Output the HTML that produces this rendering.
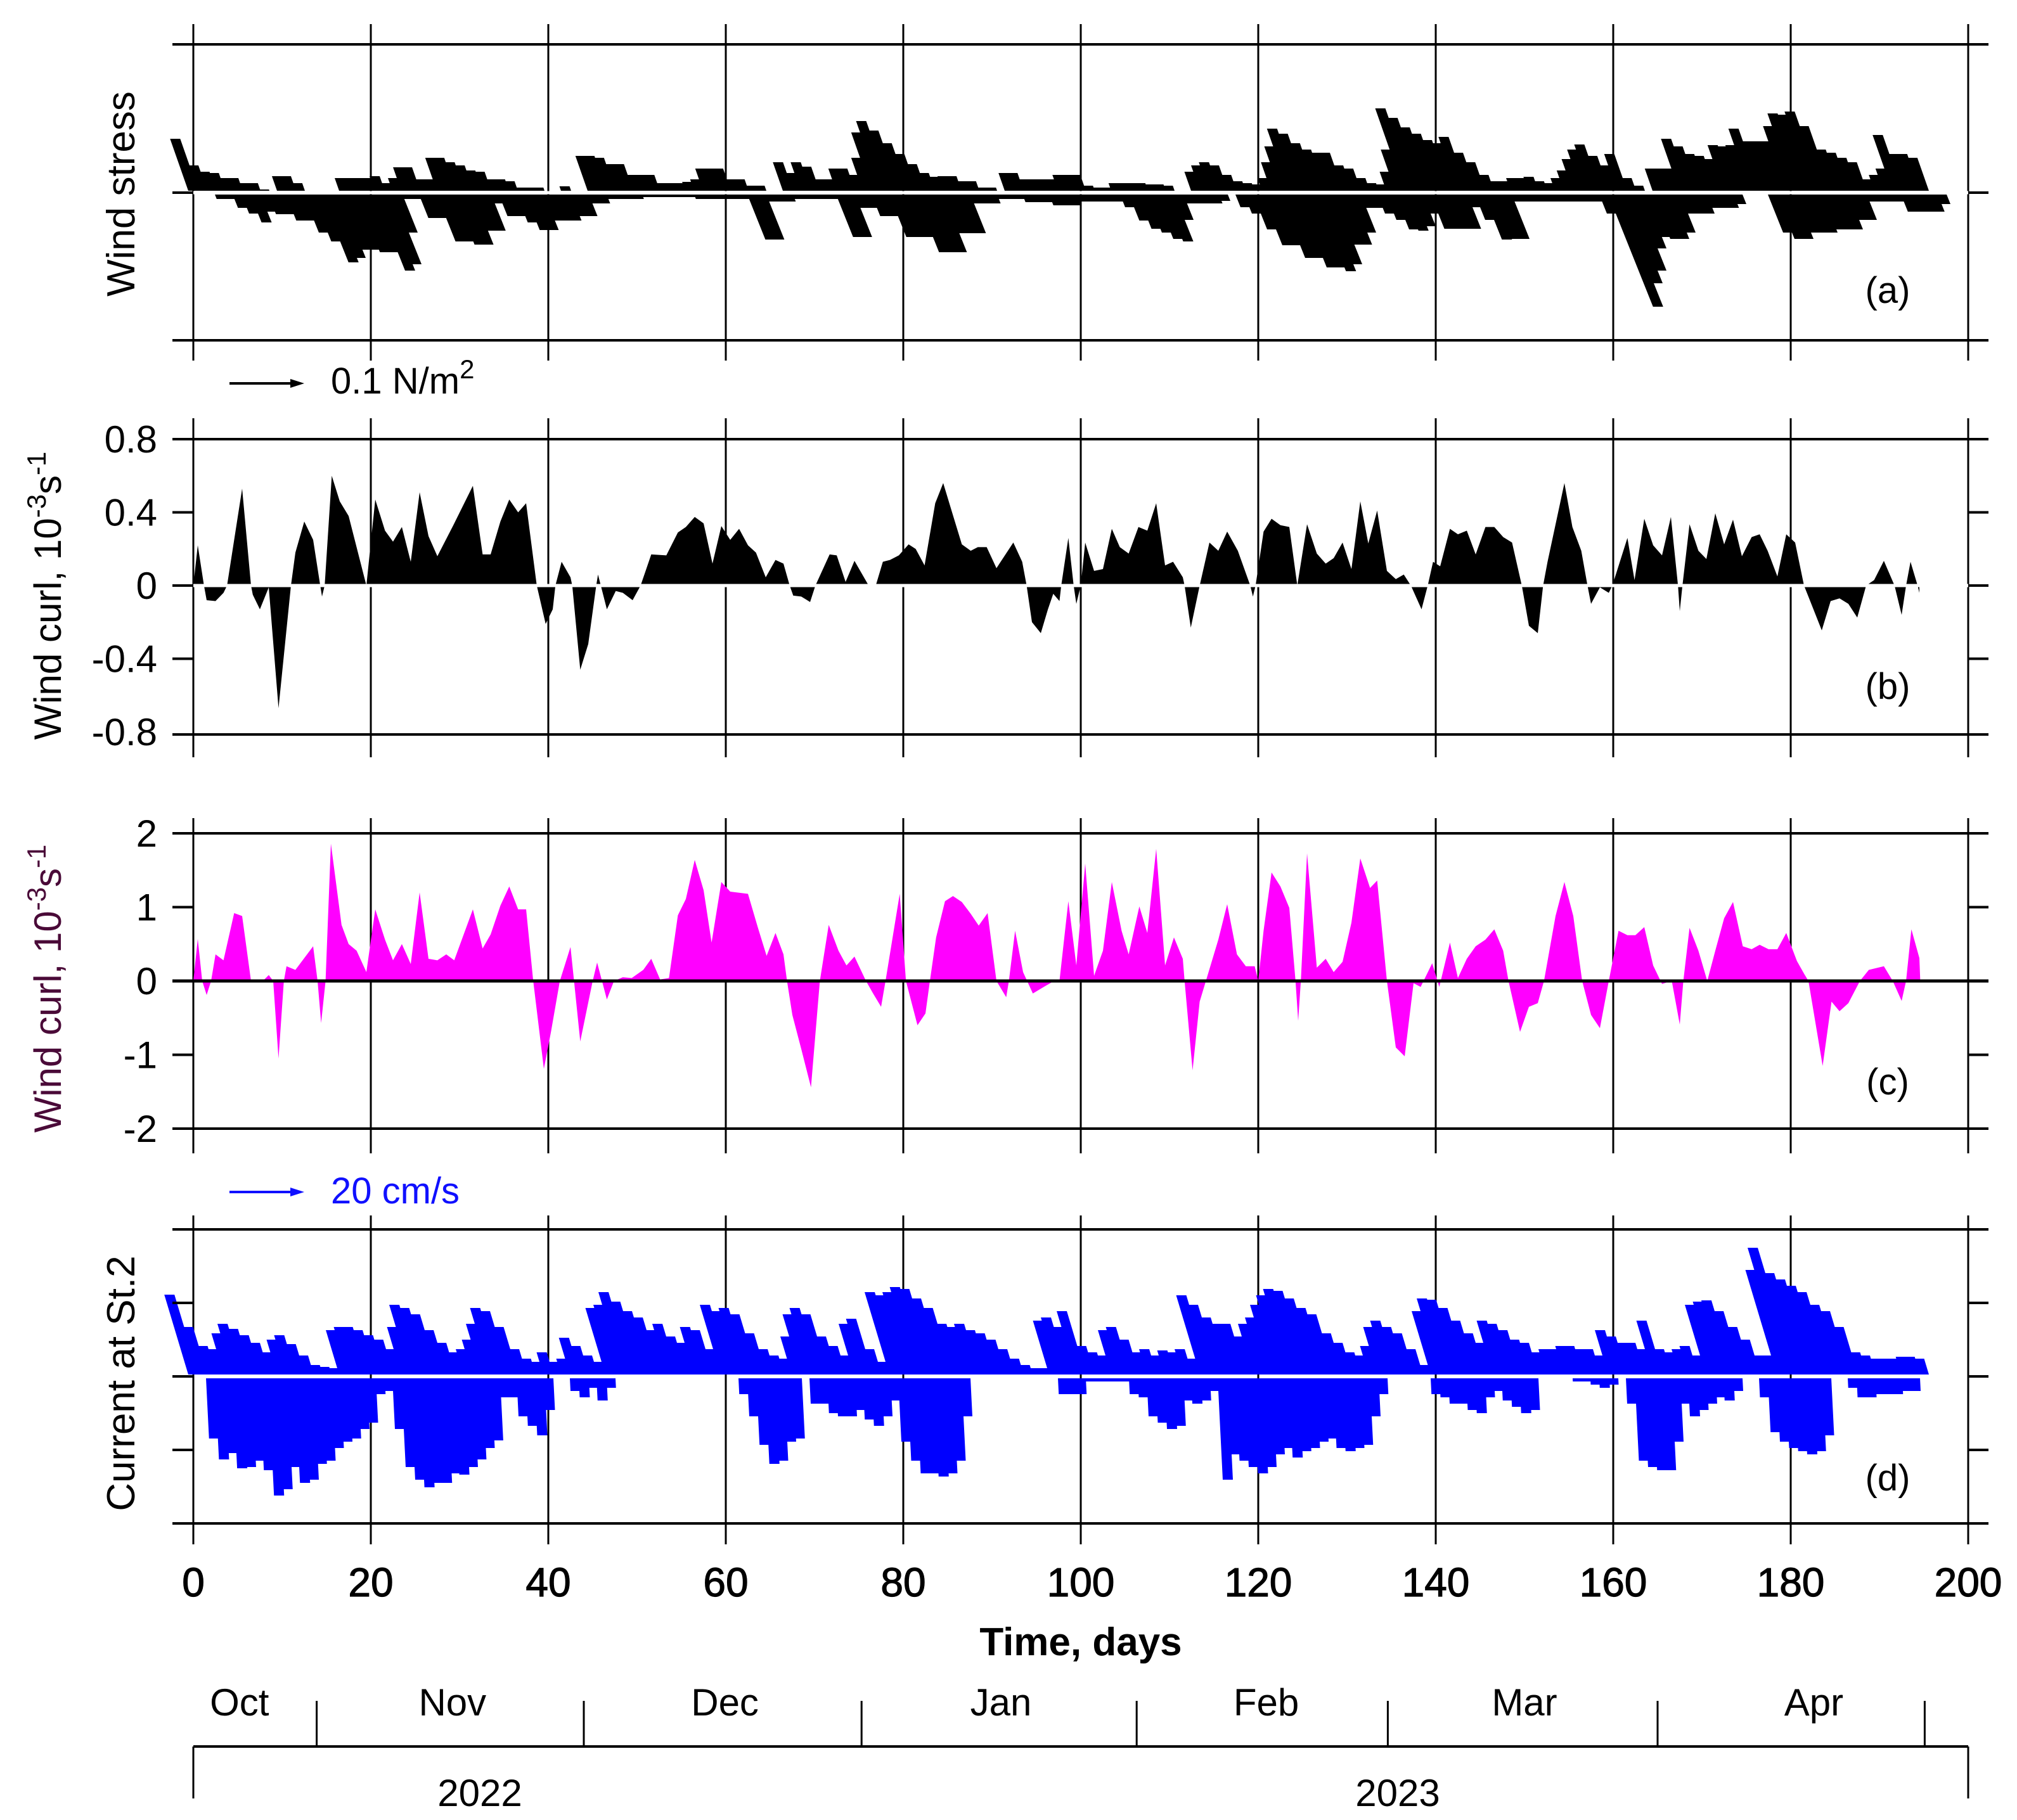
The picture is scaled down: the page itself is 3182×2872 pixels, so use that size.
<!DOCTYPE html>
<html><head><meta charset="utf-8"><style>
html,body{margin:0;padding:0;background:#fff;}
svg{display:block;font-family:"Liberation Sans",Arial,sans-serif;}
</style></head><body>
<svg id="chart" xmlns="http://www.w3.org/2000/svg" width="3182" height="2872" viewBox="0 0 3182 2872">
<rect width="3182" height="2872" fill="#fff"/>
<g id="axes" stroke="#000" fill="none"></g>
<g id="marks"></g>
<g id="overlay" stroke="#000" fill="none"></g>

<text transform="translate(212,306) rotate(-90)" text-anchor="middle" font-size="62">Wind stress</text>
<text transform="translate(96,940) rotate(-90)" text-anchor="middle" font-size="60">Wind curl, 10<tspan dy="-24" font-size="42">-3</tspan><tspan dy="24">s</tspan><tspan dy="-24" font-size="42">-1</tspan></text>
<text transform="translate(96,1560) rotate(-90)" text-anchor="middle" font-size="60" fill="#4a0a38">Wind curl, 10<tspan dy="-24" font-size="42">-3</tspan><tspan dy="24">s</tspan><tspan dy="-24" font-size="42">-1</tspan></text>
<text transform="translate(212,2183) rotate(-90)" text-anchor="middle" font-size="62">Current at St.2</text>

<text x="2978" y="478" text-anchor="middle" font-size="58">(a)</text>
<text x="2978" y="1103" text-anchor="middle" font-size="58">(b)</text>
<text x="2978" y="1727" text-anchor="middle" font-size="58">(c)</text>
<text x="2978" y="2352" text-anchor="middle" font-size="58">(d)</text>

<g>
<line x1="362" y1="605" x2="470" y2="605" stroke="#000" stroke-width="4"/>
<polygon points="480,605 458,598 458,612" fill="#000"/>
<text x="522" y="621" font-size="58">0.1 N/m<tspan dy="-24" font-size="42">2</tspan></text>
</g>
<g>
<line x1="362" y1="1881" x2="470" y2="1881" stroke="#1010ff" stroke-width="4"/>
<polygon points="480,1881 458,1874 458,1888" fill="#1010ff"/>
<text x="522" y="1899" font-size="58" fill="#1010ff">20 cm/s</text>
</g>

<g id="xticks"></g>
<text x="1705" y="2612" text-anchor="middle" font-size="62" font-weight="bold">Time, days</text>

<g id="months"></g>
<text x="757" y="2850" text-anchor="middle" font-size="60">2022</text>
<text x="2205" y="2850" text-anchor="middle" font-size="60">2023</text>
</svg>
<script>
const xTicks = [0,20,40,60,80,100,120,140,160,180,200];
const bTicks = ["0.8","0.4","0","-0.4","-0.8"];
const bTickVals = [0.8,0.4,0,-0.4,-0.8];
const cTicks = ["2","1","0","-1","-2"];
const cTickVals = [2,1,0,-1,-2];
const monthNames = ["Oct","Nov","Dec","Jan","Feb","Mar","Apr"];
const monthCenters = [5.2,29.2,59.9,91,120.9,150,182.6];
const monthBounds = [13.9,44,75.3,106.3,134.6,165,195.1];

const aUp = [82,40,30,28,20,20,12,12,2,0,23,23,12,0,0,0,0,20,20,20,20,23,12,20,37,37,18,18,52,52,45,40,32,30,18,18,15,5,5,5,0,0,7,0,0,55,55,52,42,42,25,25,25,12,12,12,14,18,35,35,35,18,18,8,8,0,0,45,28,45,38,18,18,35,35,25,52,92,110,95,75,58,42,28,22,23,23,15,15,5,5,0,28,28,18,18,18,18,25,25,
25,8,5,5,12,12,12,12,10,10,8,0,0,30,40,45,40,25,15,12,10,20,45,70,98,90,75,65,60,60,40,35,20,12,10,30,65,130,115,100,90,80,75,85,60,45,25,15,15,20,20,22,15,12,20,32,50,65,73,55,40,58,20,8,0,35,35,35,82,70,58,55,50,72,70,72,98,78,78,78,102,122,120,125,102,65,60,52,45,18,25,35,88,58,58,52,0,0,0,0];
const aDown = [0,0,0,7,7,21,30,44,27,31,31,41,41,60,74,107,100,87,87,91,91,120,110,60,7,7,37,37,74,74,79,79,57,57,14,34,34,44,56,56,41,41,41,34,34,14,14,7,7,7,7,4,4,4,4,4,4,7,7,7,7,7,7,71,71,11,11,11,7,7,7,7,7,67,67,21,21,34,34,67,67,67,91,91,91,61,61,61,14,14,14,7,7,7,12,12,12,17,17,17,
11,11,11,11,11,20,41,54,60,70,74,40,14,14,14,14,10,0,20,30,55,80,80,100,100,115,115,121,110,79,79,60,21,21,30,40,55,57,50,30,54,54,54,54,20,40,71,70,70,11,11,11,11,11,11,11,11,11,11,30,177,140,120,85,67,70,70,60,30,30,30,21,21,21,15,0,0,0,60,70,70,60,60,60,55,55,55,40,40,11,11,11,11,27,27,27,27,15,0,0];

const bDays = [0,0.5,1.2,1.5,2.5,3.4,3.8,5.5,6.5,6.7,7.5,8.5,9.6,11,11.5,12.5,13.5,14.3,14.5,14.8,15.6,16.5,17.5,19.5,20.5,21.6,22.5,23.5,24.5,25.5,26.5,27.5,29.3,31.5,32.6,33.5,34.6,35.6,36.6,37.5,38.7,39.7,40.5,40.8,41.5,42.5,42.7,43.6,44.5,45.4,45.6,46.6,47.6,48.4,49.5,50.4,51.6,53.3,54.6,55.5,56.5,57.5,58.5,59.5,60.5,61.5,62.5,63.4,64.5,65.6,66.5,67.2,67.6,68.5,69.5,70.1,71.7,72.5,73.5,74.5,76.1,76.9,77.7,78.5,79.5,80.6,81.4,82.4,83.6,84.5,85.5,86.6,87.6,88.4,89.4,90.5,92.4,93.4,93.9,94.5,95.5,96.3,96.9,97.6,97.8,98.6,99.2,99.5,100,100.5,101.5,102.5,103.5,104.4,105.4,106.5,107.5,108.5,109.5,110.4,111.5,111.7,112.4,113.4,114.5,115.5,116.5,117.7,119.1,119.4,119.7,120.6,121.5,122.5,123.5,124.4,125.5,126.6,127.6,128.5,129.5,130.5,131.5,132.4,133.4,134.5,135.5,136.4,137.2,138.4,139.1,139.7,140.5,141.6,142.5,143.5,144.5,145.6,146.6,147.6,148.6,149.7,150.5,151.5,152.1,152.6,154.5,155.4,156.4,157.1,157.5,158.5,159.5,159.9,161.6,162.4,163.5,164.5,165.5,166.5,167.3,167.5,167.8,168.6,169.6,170.5,171.5,172.5,173.5,174.5,175.6,176.5,177.4,178.5,179.5,180.5,181.5,182.4,183.5,184.5,185.5,186.5,187.5,188.5,189.4,190.5,191.7,192.5,193,193.5,194.3,194.5];
const bVals = [0,0.22,0,-0.08,-0.085,-0.04,0,0.53,0,-0.05,-0.13,-0.01,-0.67,0,0.18,0.35,0.25,0,-0.06,0,0.6,0.46,0.38,0,0.47,0.3,0.24,0.32,0.13,0.51,0.27,0.16,0.33,0.545,0.17,0.17,0.35,0.47,0.4,0.45,0,-0.21,-0.13,0,0.13,0.045,0,-0.46,-0.32,0,0.06,-0.13,-0.03,-0.04,-0.08,0,0.17,0.165,0.29,0.32,0.375,0.34,0.12,0.325,0.25,0.31,0.22,0.18,0.045,0.14,0.12,0,-0.055,-0.06,-0.09,0,0.17,0.165,0.02,0.135,0,0,0.13,0.14,0.165,0.225,0.2,0.11,0.45,0.56,0.4,0.225,0.19,0.21,0.21,0.095,0.235,0.13,0,-0.2,-0.26,-0.13,-0.045,-0.085,0,0.26,0,-0.1,0,0.235,0.08,0.09,0.31,0.21,0.175,0.32,0.3,0.45,0.11,0.13,0.045,0,-0.23,0,0.235,0.19,0.295,0.19,0,-0.06,0,0.295,0.365,0.33,0.32,0,0.335,0.175,0.12,0.15,0.235,0.09,0.46,0.23,0.41,0.08,0.035,0.06,0,-0.13,0,0.13,0.105,0.31,0.28,0.3,0.17,0.32,0.32,0.265,0.235,0,-0.22,-0.26,0,0.13,0.56,0.32,0.19,0,-0.1,-0.01,-0.04,0,0.26,0.03,0.365,0.22,0.165,0.375,0,-0.14,0,0.335,0.19,0.145,0.395,0.225,0.36,0.16,0.265,0.28,0.19,0.05,0.28,0.235,0,-0.11,-0.245,-0.085,-0.07,-0.1,-0.175,0,0.03,0.135,0,-0.16,0,0.13,0,-0.04];

const cDays = [0,0.5,1,1.5,2,2.5,3.4,4.6,5.5,6.5,8,8.5,9,9.6,10.2,10.5,11.5,13.5,14,14.4,14.9,15.5,16.7,17.5,18.4,19.5,20.5,21.6,22.5,23.5,24.5,25.5,26.5,27.5,28.5,29.4,31.5,32.6,33.5,34.6,35.6,36.6,37.5,38.3,39.5,40.3,41.3,42.5,42.9,43.6,45,45.5,46.6,47.4,48.4,49.4,50.7,51.6,52.6,53.6,54.6,55.5,56.5,57.5,58.4,59.5,60.5,62.5,63.6,64.6,65.6,66.5,66.9,67.5,68.5,69.6,70.6,71.6,72.7,73.6,74.5,75.8,76.6,77.5,78,79.6,80.3,81.6,82.5,83,83.7,84.7,85.6,86.6,87.6,88.5,89.5,90.5,91.6,91.9,92.6,93.5,94.6,95.7,96.7,97.6,98.6,99.5,100.5,101.5,102.5,103.5,104.6,105.4,106.6,107.5,108.5,109.5,110.5,111.5,111.7,112.6,113.4,114.1,115.5,116.5,117.6,118.6,119.6,120,120.6,121.5,122.5,123.5,124.2,124.5,124.8,125.5,126.6,127.6,128.5,129.5,130.5,131.5,132.6,133.4,134.5,135.5,136.5,137.5,138.3,139.6,140.4,141.6,142.5,143.5,144.5,145.6,146.6,147.6,148.2,149.5,150.5,151.5,152.2,153.5,154.5,155.5,156.5,157.5,158.5,159.5,160.6,161.6,162.5,163.5,164.5,165.5,166.6,167.5,167.9,168.6,169.6,170.6,171.5,172.5,173.5,174.6,175.6,176.5,177.5,178.5,179.5,180.7,181.5,182,183.6,184.6,185.5,186.5,187.8,188.8,190.5,191.5,192.5,193,193.6,194.5,194.6];
const cVals = [0,0.57,0,-0.19,0,0.36,0.28,0.92,0.88,0,0.02,0.08,0,-1.05,0,0.2,0.15,0.47,0,-0.57,0,1.86,0.76,0.5,0.41,0.12,0.97,0.56,0.28,0.5,0.23,1.2,0.3,0.28,0.36,0.28,0.97,0.44,0.63,1.02,1.28,0.97,0.97,0,-1.19,-0.69,0,0.46,0,-0.82,0,0.25,-0.25,0,0.05,0.04,0.15,0.3,0.02,0.04,0.89,1.11,1.64,1.23,0.52,1.34,1.21,1.18,0.73,0.34,0.65,0.36,0,-0.46,-0.92,-1.44,0,0.76,0.41,0.21,0.33,0,-0.17,-0.35,0,1.18,0,-0.6,-0.44,0,0.59,1.08,1.15,1.07,0.91,0.75,0.92,0,-0.22,0,0.68,0.12,-0.17,-0.09,-0.02,0,1.08,0.21,1.59,0.07,0.41,1.34,0.68,0.36,1.01,0.65,1.79,0.21,0.59,0.3,0,-1.21,-0.28,0,0.56,1.04,0.36,0.2,0.2,0,0.68,1.47,1.28,0.99,0,-0.54,0,1.73,0.18,0.3,0.12,0.26,0.79,1.66,1.26,1.36,0,-0.9,-1.02,-0.03,-0.08,0.24,-0.08,0.52,0.04,0.3,0.47,0.56,0.7,0.41,0,-0.69,-0.35,-0.3,0,0.88,1.34,0.88,0,-0.46,-0.64,0,0.68,0.62,0.62,0.73,0.21,-0.04,0,-0.59,0,0.72,0.41,0,0.41,0.85,1.07,0.47,0.43,0.49,0.43,0.43,0.65,0.27,0.1,0,-1.15,-0.28,-0.41,-0.3,0,0.15,0.2,0,-0.27,0,0.7,0.31,0];

const dUp = [126,75,45,40,65,80,72,62,50,35,55,62,48,30,15,12,10,70,75,75,70,62,55,40,75,110,105,95,70,50,35,40,55,80,105,100,75,40,25,20,35,20,25,58,45,30,20,105,110,130,115,100,90,70,80,60,50,75,70,40,110,100,105,95,65,40,30,25,60,95,105,95,60,45,30,80,88,40,20,130,125,130,138,135,120,105,80,75,80,70,65,55,40,25,15,10,10,85,90,75,
100,45,35,30,70,75,55,35,40,30,38,35,40,25,125,110,90,80,80,60,80,90,110,125,135,132,120,105,95,65,50,35,30,45,75,85,75,65,40,15,100,120,118,105,85,65,50,85,80,70,55,50,35,40,40,45,45,40,40,30,70,60,50,50,40,85,40,35,40,45,30,110,115,117,100,75,55,30,30,165,200,160,150,140,130,110,100,75,35,30,25,25,25,28,28,25,0,0,0,0];
const dDown = [0,0,95,128,118,142,140,130,145,185,175,140,165,160,135,130,110,100,95,80,70,25,20,80,140,160,172,165,165,150,152,140,128,110,98,30,30,60,75,90,50,0,0,20,30,15,35,15,0,0,0,0,0,0,0,0,0,0,0,0,0,0,25,60,105,135,130,100,95,0,40,40,55,60,60,50,65,75,60,35,100,130,150,150,155,150,130,60,0,0,0,0,0,0,0,0,0,0,25,25,
25,5,5,5,5,5,25,30,60,70,80,75,35,40,35,20,160,120,130,140,150,140,120,110,125,115,110,100,95,110,115,110,105,60,25,0,0,0,0,0,25,30,40,40,50,55,30,20,35,45,55,50,0,0,0,0,5,5,10,15,10,0,40,130,140,145,145,100,40,60,50,40,30,35,20,0,0,30,85,100,110,115,120,115,90,0,0,15,30,30,25,25,25,20,20,0,0,0,0,0];

const X0 = 305, PXPERDAY = 14;
const xs = d => X0 + PXPERDAY*d;
const panelA = {top:70, zero:304, bottom:537, gTop:38, gBot:569};
const panelB = {top:693, zero:924, bottom:1159, gTop:660, gBot:1195};
const panelC = {top:1315, zero:1548, bottom:1781, gTop:1291, gBot:1820};
const panelD = {top:1940, zero:2172, bottom:2404, gTop:1918, gBot:2437};
const ybB = v => panelB.zero - v*(panelB.zero-panelB.top)/0.8;
const ycC = v => panelC.zero - v*(panelC.zero-panelC.top)/2;
const NS = "http://www.w3.org/2000/svg";
const axes = document.getElementById('axes');
const marks = document.getElementById('marks');
const overlay = document.getElementById('overlay');
function mk(tag, parent, attrs){ const e=document.createElementNS(NS,tag); for(const k in attrs) e.setAttribute(k,attrs[k]); parent.appendChild(e); return e; }
function hline(parent,y,x1,x2,w){ return mk('line',parent,{x1:x1,x2:x2,y1:y,y2:y,'stroke-width':w}); }

[panelA,panelB,panelC,panelD].forEach(p=>{
  xTicks.forEach(t=>{
    const l = mk('line',axes,{x1:xs(t),x2:xs(t),y1:p.gTop,y2:p.gBot,'stroke-width':3});
    
    
  });
  const t1 = hline(axes,p.top,272,3137,4);
  
  
  const b1 = hline(axes,p.bottom,272,3137,4);
  
  
});

function sticks(up, down, p, fill, tiltUp, tiltDown, nameBase){
  const g = mk('g',marks,{fill:fill});
  
  
  const hw = 8;
  up.forEach((h,i)=>{
    if(h<=0) return;
    const bx = xs(i), by = p.zero-3, tx = bx - tiltUp*h, ty = p.zero-3-h;
    const poly = mk('polygon',g,{points:`${bx-hw},${by} ${bx+hw},${by} ${tx+hw},${ty} ${tx-hw},${ty}`});
    
    
  });
  down.forEach((h,i)=>{
    if(h<=0) return;
    const bx = xs(i), by = p.zero+3, tx = bx + tiltDown*h, ty = p.zero+3+h;
    const poly = mk('polygon',g,{points:`${bx-hw},${by} ${bx+hw},${by} ${tx+hw},${ty} ${tx-hw},${ty}`});
    
    
  });
}
sticks(aUp, aDown, panelA, '#000', 0.35, 0.4, 'wind-stress');
sticks(dUp, dDown, panelD, '#0000ff', 0.3, 0.05, 'current-st2');

function area(days, vals, yf, zero, fill, name){
  let pts = `${xs(days[0])},${zero} `;
  days.forEach((d,i)=>{ pts += `${xs(d)},${yf(vals[i])} `; });
  pts += `${xs(days[days.length-1])},${zero}`;
  const poly = mk('polygon',marks,{points:pts,fill:fill});
  
  
}
area(bDays,bVals,ybB,panelB.zero,'#000','wind-curl-b-area');
area(cDays,cVals,ycC,panelC.zero,'#ff00ff','wind-curl-c-area');

[panelA,panelB].forEach(p=>{
  const w = mk('line',marks,{x1:xs(0),x2:xs(200),y1:p.zero,y2:p.zero,stroke:'#fff','stroke-width':5});
  
  
});

function yticks(p, vals, yf){
  vals.forEach(v=>{
    const y = yf(v);
    const l1 = hline(overlay,y,272,305,4);
    
    
    const l2 = hline(overlay,y,3105,3137,4);
    
    
  });
}
yticks(panelA,[0],v=>panelA.zero);
yticks(panelB,[0.4,0,-0.4],ybB);
yticks(panelC,[1,-1],ycC);
yticks(panelD,[1,0,-1],v=>panelD.zero - v*116);
const cz = hline(overlay,panelC.zero,272,3137,5);



function ylabels(labels, vals, yf, name){
  labels.forEach((lab,i)=>{
    const t = mk('text',document.getElementById('chart'),{x:248,y:yf(vals[i])+21,'text-anchor':'end','font-size':60});
    t.textContent = lab;
    
    
  });
}
ylabels(bTicks,bTickVals,ybB,'y-tick-label-b');
ylabels(cTicks,cTickVals,ycC,'y-tick-label-c');

const xt = document.getElementById('xticks');
xTicks.forEach(t=>{
  const e = mk('text',xt,{x:xs(t),y:2519,'text-anchor':'middle','font-size':64,stroke:'#000','stroke-width':1.2});
  e.textContent = t;
  
  
});

const mg = document.getElementById('months');
mk('line',mg,{x1:xs(0),x2:xs(200),y1:2756,y2:2756,stroke:'#000','stroke-width':4});
mk('line',mg,{x1:xs(0),x2:xs(0),y1:2756,y2:2838,stroke:'#000','stroke-width':3});
mk('line',mg,{x1:xs(200),x2:xs(200),y1:2756,y2:2838,stroke:'#000','stroke-width':3});
monthBounds.forEach(d=>{
  const l = mk('line',mg,{x1:xs(d),x2:xs(d),y1:2684,y2:2756,stroke:'#000','stroke-width':3});
  
  
});
monthNames.forEach((m,i)=>{
  const e = mk('text',mg,{x:xs(monthCenters[i]),y:2707,'text-anchor':'middle','font-size':60});
  e.textContent = m;
  
  
});
</script>
</body></html>
